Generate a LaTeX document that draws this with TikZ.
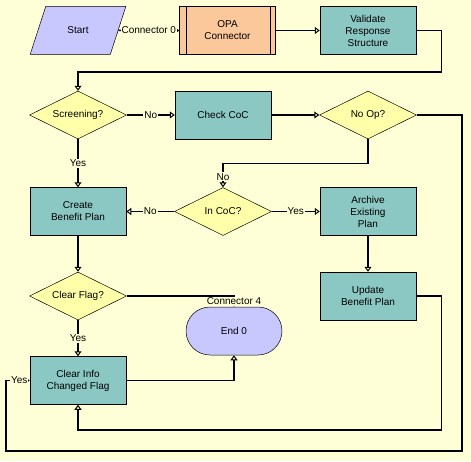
\documentclass[tikz,border=0pt]{standalone}
\usepackage{fontspec}
\setmainfont{Liberation Sans}
\usetikzlibrary{shapes.geometric, arrows.meta, positioning}
\definecolor{bgyellow}{RGB}{255,255,215}
\definecolor{decfill}{RGB}{255,255,170}
\definecolor{taskfill}{RGB}{140,200,195}
\definecolor{startfill}{RGB}{200,200,255}
\definecolor{opafill}{RGB}{250,200,155}

\begin{document}
\begin{tikzpicture}[node distance=36pt and 48pt, >={Triangle[open, length=5pt, width=7pt, line width=1pt]},
  font=\fontsize{10}{12}\selectfont,
  task/.style={draw, line width=0.5pt, fill=taskfill, minimum width=96pt, minimum height=48pt, align=center, inner sep=2pt},
  decision/.style={draw, line width=0.5pt, fill=decfill, diamond, aspect=2, minimum width=97pt, minimum height=48pt, inner sep=0pt},
  flow/.style={->, line width=1.5pt},
  lbl/.style={fill=bgyellow, inner sep=1pt}]
  \fill[bgyellow] (0,0) rectangle (471pt,-461pt);
  \useasboundingbox (0,0) rectangle (471pt,-461pt);

  \node[decision] (screening) at (78pt,-115pt) {Screening?};
  \node[draw, line width=0.5pt, fill=startfill, trapezium, trapezium left angle=64, trapezium right angle=116,
        trapezium stretches=true, minimum width=96pt, minimum height=48pt, above=of screening] (start) {Start};
  \node[task, right=of screening] (checkcoc) {Check CoC};
  \node[decision, right=of checkcoc] (noop) {No Op?};
  \node[task, above=of noop] (validate) {Validate\\Response\\Structure};
  \node[task, fill=opafill, left=44pt of validate] (opa) {OPA\\Connector};
  \draw[line width=0.5pt] ([xshift=7pt]opa.north west) -- ([xshift=7pt]opa.south west);
  \draw[line width=0.5pt] ([xshift=-6pt]opa.north east) -- ([xshift=-6pt]opa.south east);
  \node[task, below=48pt of screening] (create) {Create\\Benefit Plan};
  \node[decision, right=of create] (incoc) {In CoC?};
  \node[task, right=of incoc] (archive) {Archive\\Existing\\Plan};
  \node[task, below=of archive] (update) {Update\\Benefit Plan};
  \node[decision, below=of create] (clearflag) {Clear Flag?};
  \node[task, below=of clearflag] (clearinfo) {Clear Info\\Changed Flag};
  \node[draw, line width=0.5pt, fill=startfill, rounded corners=24pt, minimum width=96pt, minimum height=48pt] (end) at (234pt,-331pt) {End 0};
  \coordinate (outer se) at (462pt,-451pt);
  \coordinate (outer sw) at (6pt,-451pt);

  \draw[flow] (start) -- node[lbl] {Connector 0} (opa);
  \draw[flow] (opa) -- (validate);
  \draw[flow] (validate.east) -- ++(25pt,0) |- ([yshift=19pt]screening.north) -- (screening);
  \draw[flow] (screening) -- node[lbl] {No} (checkcoc);
  \draw[flow] (checkcoc) -- (noop);
  \draw[flow] (noop.east) -| (outer se) -- (outer sw) |- node[lbl, pos=0.78] {Yes} (clearinfo.west);
  \draw[flow] (noop.south) -- ++(0,-24pt) -| node[lbl, pos=0.78] {No} (incoc.north);
  \draw[flow] (screening) -- node[lbl] {Yes} (create);
  \draw[flow] (incoc) -- node[lbl] {No} (create);
  \draw[flow] (incoc) -- node[lbl] {Yes} (archive);
  \draw[flow] (create) -- (clearflag);
  \draw[flow] (clearflag) -- node[lbl] {Yes} (clearinfo);
  \draw[flow] (clearflag.east) -| node[lbl, pos=0.75] {Connector 4} (end.north);
  \draw[flow] (clearinfo.east) -| (end.south);
  \draw[flow] (archive) -- (update);
  \draw[flow] (update.east) -- ++(25pt,0) |- ([yshift=-25pt]clearinfo.south) -- (clearinfo.south);
\end{tikzpicture}
\end{document}
